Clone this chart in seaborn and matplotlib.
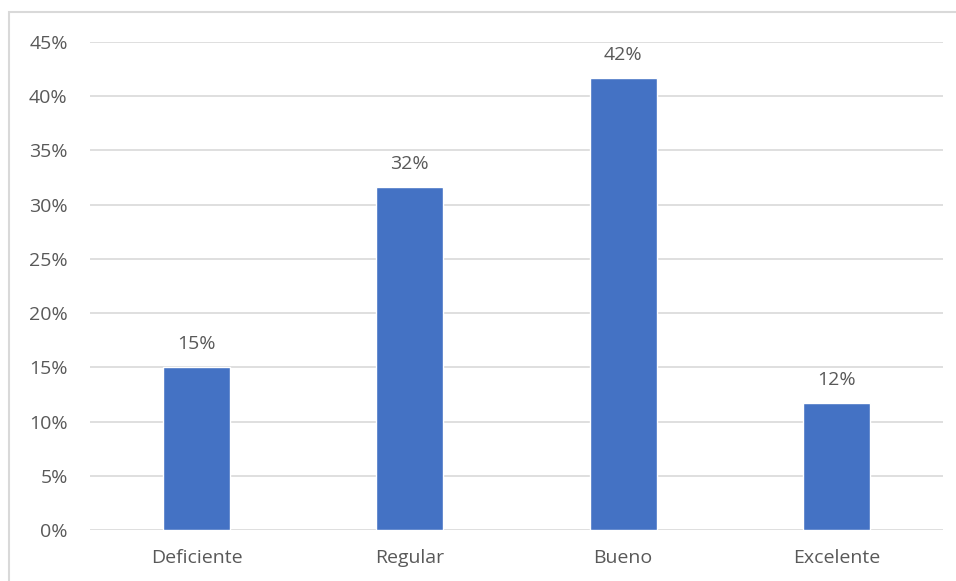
import matplotlib
matplotlib.use("Agg")
import matplotlib.pyplot as plt
import seaborn as sns
import pandas as pd
from matplotlib.patches import Rectangle
from matplotlib.ticker import PercentFormatter

categorias = ["Deficiente", "Regular", "Bueno", "Excelente"]
porcentajes = [0.150, 0.316, 0.417, 0.117]
etiquetas = ["15%", "32%", "42%", "12%"]

df = pd.DataFrame({"cat": categorias, "val": porcentajes})

sns.set_style("white")
plt.rcParams["font.family"] = ["Open Sans", "DejaVu Sans"]

fig = plt.figure(figsize=(9.56, 5.81), dpi=100)
ax = fig.add_axes([0.0941, 0.0878, 0.8923, 0.8399])

sns.barplot(data=df, x="cat", y="val", color="#4472C4", saturation=1,
            width=0.315, ax=ax)

ax.set_ylim(0, 0.45)
ax.set_yticks([i * 0.05 for i in range(10)])
ax.yaxis.set_major_formatter(PercentFormatter(1.0, decimals=0))
ax.grid(axis="y", color="#D9D9D9", linewidth=1.2)
ax.set_axisbelow(True)
for s in ax.spines.values():
    s.set_visible(False)
ax.tick_params(axis="both", length=0, labelsize=14, colors="#595959")
ax.tick_params(axis="y", pad=16)
ax.tick_params(axis="x", pad=14)
ax.set_xlabel("")
ax.set_ylabel("")

for p, txt in zip(ax.patches, etiquetas):
    ax.annotate(txt, (p.get_x() + p.get_width() / 2, p.get_height()),
                xytext=(0, 10), textcoords="offset points",
                ha="center", va="bottom", fontsize=14, color="#595959")

fig.patches.append(Rectangle((9 / 956, -0.1), 1.2, 1.0 - 12 / 581 + 0.1,
                             transform=fig.transFigure, fill=False,
                             edgecolor="#D9D9D9", linewidth=1.5))

fig.savefig("out.png", dpi=100)
